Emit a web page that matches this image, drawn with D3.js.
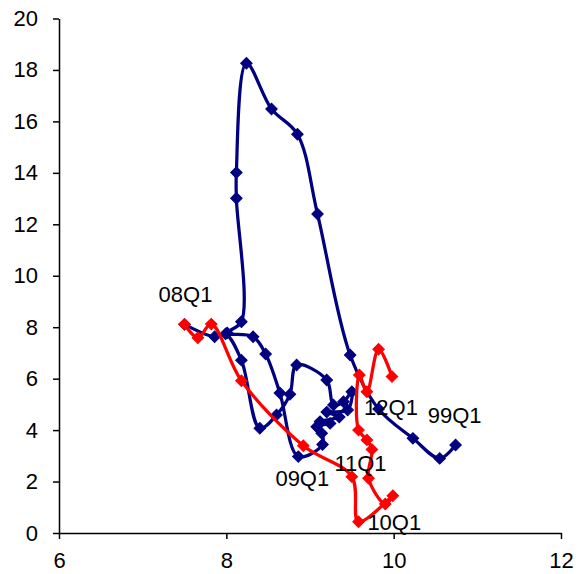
<!DOCTYPE html>
<html>
<head>
<meta charset="utf-8">
<script src="https://cdn.jsdelivr.net/npm/d3@7"></script>
<style>
  html, body { margin: 0; padding: 0; background: #fff; }
  svg { display: block; }
  text { font-family: "Liberation Sans", Arial, sans-serif; }
</style>
</head>
<body>
<svg id="chart" width="582" height="574"></svg>
<script>
// ---- data ----
// Blue series: 99Q1 .. 08Q1
const blueX = [10.74, 10.55, 10.23, 9.82, 9.48, 9.09, 8.85, 8.54, 8.24, 8.12, 8.12, 8.18,
               8.01, 8.32, 8.47, 8.64, 8.86, 9.15,
               9.14, 9.08, 9.24, 9.12, 9.35, 9.20, 9.45, 9.50, 9.40, 9.28,
               9.20, 8.84, 8.76, 8.60, 8.40, 8.18, 7.99, 7.86, 7.50];
const blueY = [3.42, 2.90, 3.68, 4.82, 6.92, 12.40, 15.50, 16.48, 18.26, 14.01, 13.01, 8.21,
               7.78, 7.63, 6.96, 5.44, 2.97, 3.44,
               3.88, 4.13, 4.26, 4.33, 4.51, 4.70, 4.78, 5.49, 5.10, 4.98,
               5.95, 6.53, 5.39, 4.59, 4.07, 6.72, 7.74, 7.63, 8.11];
// Red series: 08Q1 .. 12Q1
const redX = [7.50, 7.66, 7.82, 8.18, 8.92, 9.50, 9.58, 9.99, 9.90, 9.70, 9.74, 9.68, 9.58,
              9.59, 9.68, 9.82, 9.98];
const redY = [8.11, 7.59, 8.12, 5.92, 3.39, 2.19, 0.44, 1.45, 1.13, 2.13, 3.25, 3.62, 4.00,
              6.14, 5.49, 7.14, 6.08];
// point labels
const labelText   = ["99Q1", "08Q1", "09Q1", "10Q1", "11Q1", "12Q1"];
const labelSeries = ["blue", "red", "red", "red", "red", "red"];
const labelIndex  = [0, 0, 4, 8, 12, 16];
// axis ticks
const xTicks = [6, 8, 10, 12];
const yTicks = [0, 2, 4, 6, 8, 10, 12, 14, 16, 18, 20];

// ---- drawing ----
const svg = d3.select("#chart");
const x = d3.scaleLinear().domain([6, 12]).range([59, 561]);
const y = d3.scaleLinear().domain([0, 20]).range([533, 18.5]);

const blue = blueX.map((v, i) => [v, blueY[i]]);
const red = redX.map((v, i) => [v, redY[i]]);

const FONT = "22px";

// axes
const gx = svg.append("g").attr("transform", `translate(0,${y(0)})`)
  .call(d3.axisBottom(x).tickValues(xTicks).tickFormat(d3.format("d"))
        .tickSize(6).tickSizeOuter(0).tickPadding(13));
const gy = svg.append("g").attr("transform", `translate(${x(6)},0)`)
  .call(d3.axisLeft(y).tickValues(yTicks).tickFormat(d3.format("d"))
        .tickSize(6).tickSizeOuter(0).tickPadding(15));
[gx, gy].forEach(g => {
  g.selectAll("path, line").attr("stroke", "#000").attr("stroke-width", 1.5);
  g.selectAll("text").attr("fill", "#000").style("font-size", FONT)
    .style("font-family", "'Liberation Sans', Arial, sans-serif");
});

const line = d3.line().x(d => x(d[0])).y(d => y(d[1])).curve(d3.curveCatmullRom.alpha(0.5));
const diamond = d3.symbol().type(d3.symbolSquare).size(66);

function drawSeries(data, color) {
  svg.append("path").datum(data)
    .attr("d", line).attr("fill", "none")
    .attr("stroke", color).attr("stroke-width", 3.25)
    .attr("stroke-linejoin", "round").attr("stroke-linecap", "round");
}
function drawMarkers(data, color) {
  svg.append("g").selectAll("path").data(data).join("path")
    .attr("d", diamond)
    .attr("transform", d => `translate(${x(d[0])},${y(d[1])}) rotate(45)`)
    .attr("fill", color).attr("stroke", color).attr("stroke-width", 1);
}
drawSeries(blue, "#000080");
drawMarkers(blue, "#000080");
drawSeries(red, "#FF0000");
drawMarkers(red, "#FF0000");

// labels: offset (pixels) of text centre / baseline from the labelled point
const labelOffset = [[-1, -22], [1, -22], [-1, 40], [9, 26], [2, 41], [-1, 38]];
labelText.forEach((t, i) => {
  const src = labelSeries[i] === "blue" ? blue : red;
  const p = src[labelIndex[i]];
  svg.append("text")
    .attr("x", x(p[0]) + labelOffset[i][0])
    .attr("y", y(p[1]) + labelOffset[i][1])
    .attr("text-anchor", "middle")
    .attr("fill", "#000")
    .style("font-size", FONT)
    .text(t);
});
</script>
</body>
</html>
